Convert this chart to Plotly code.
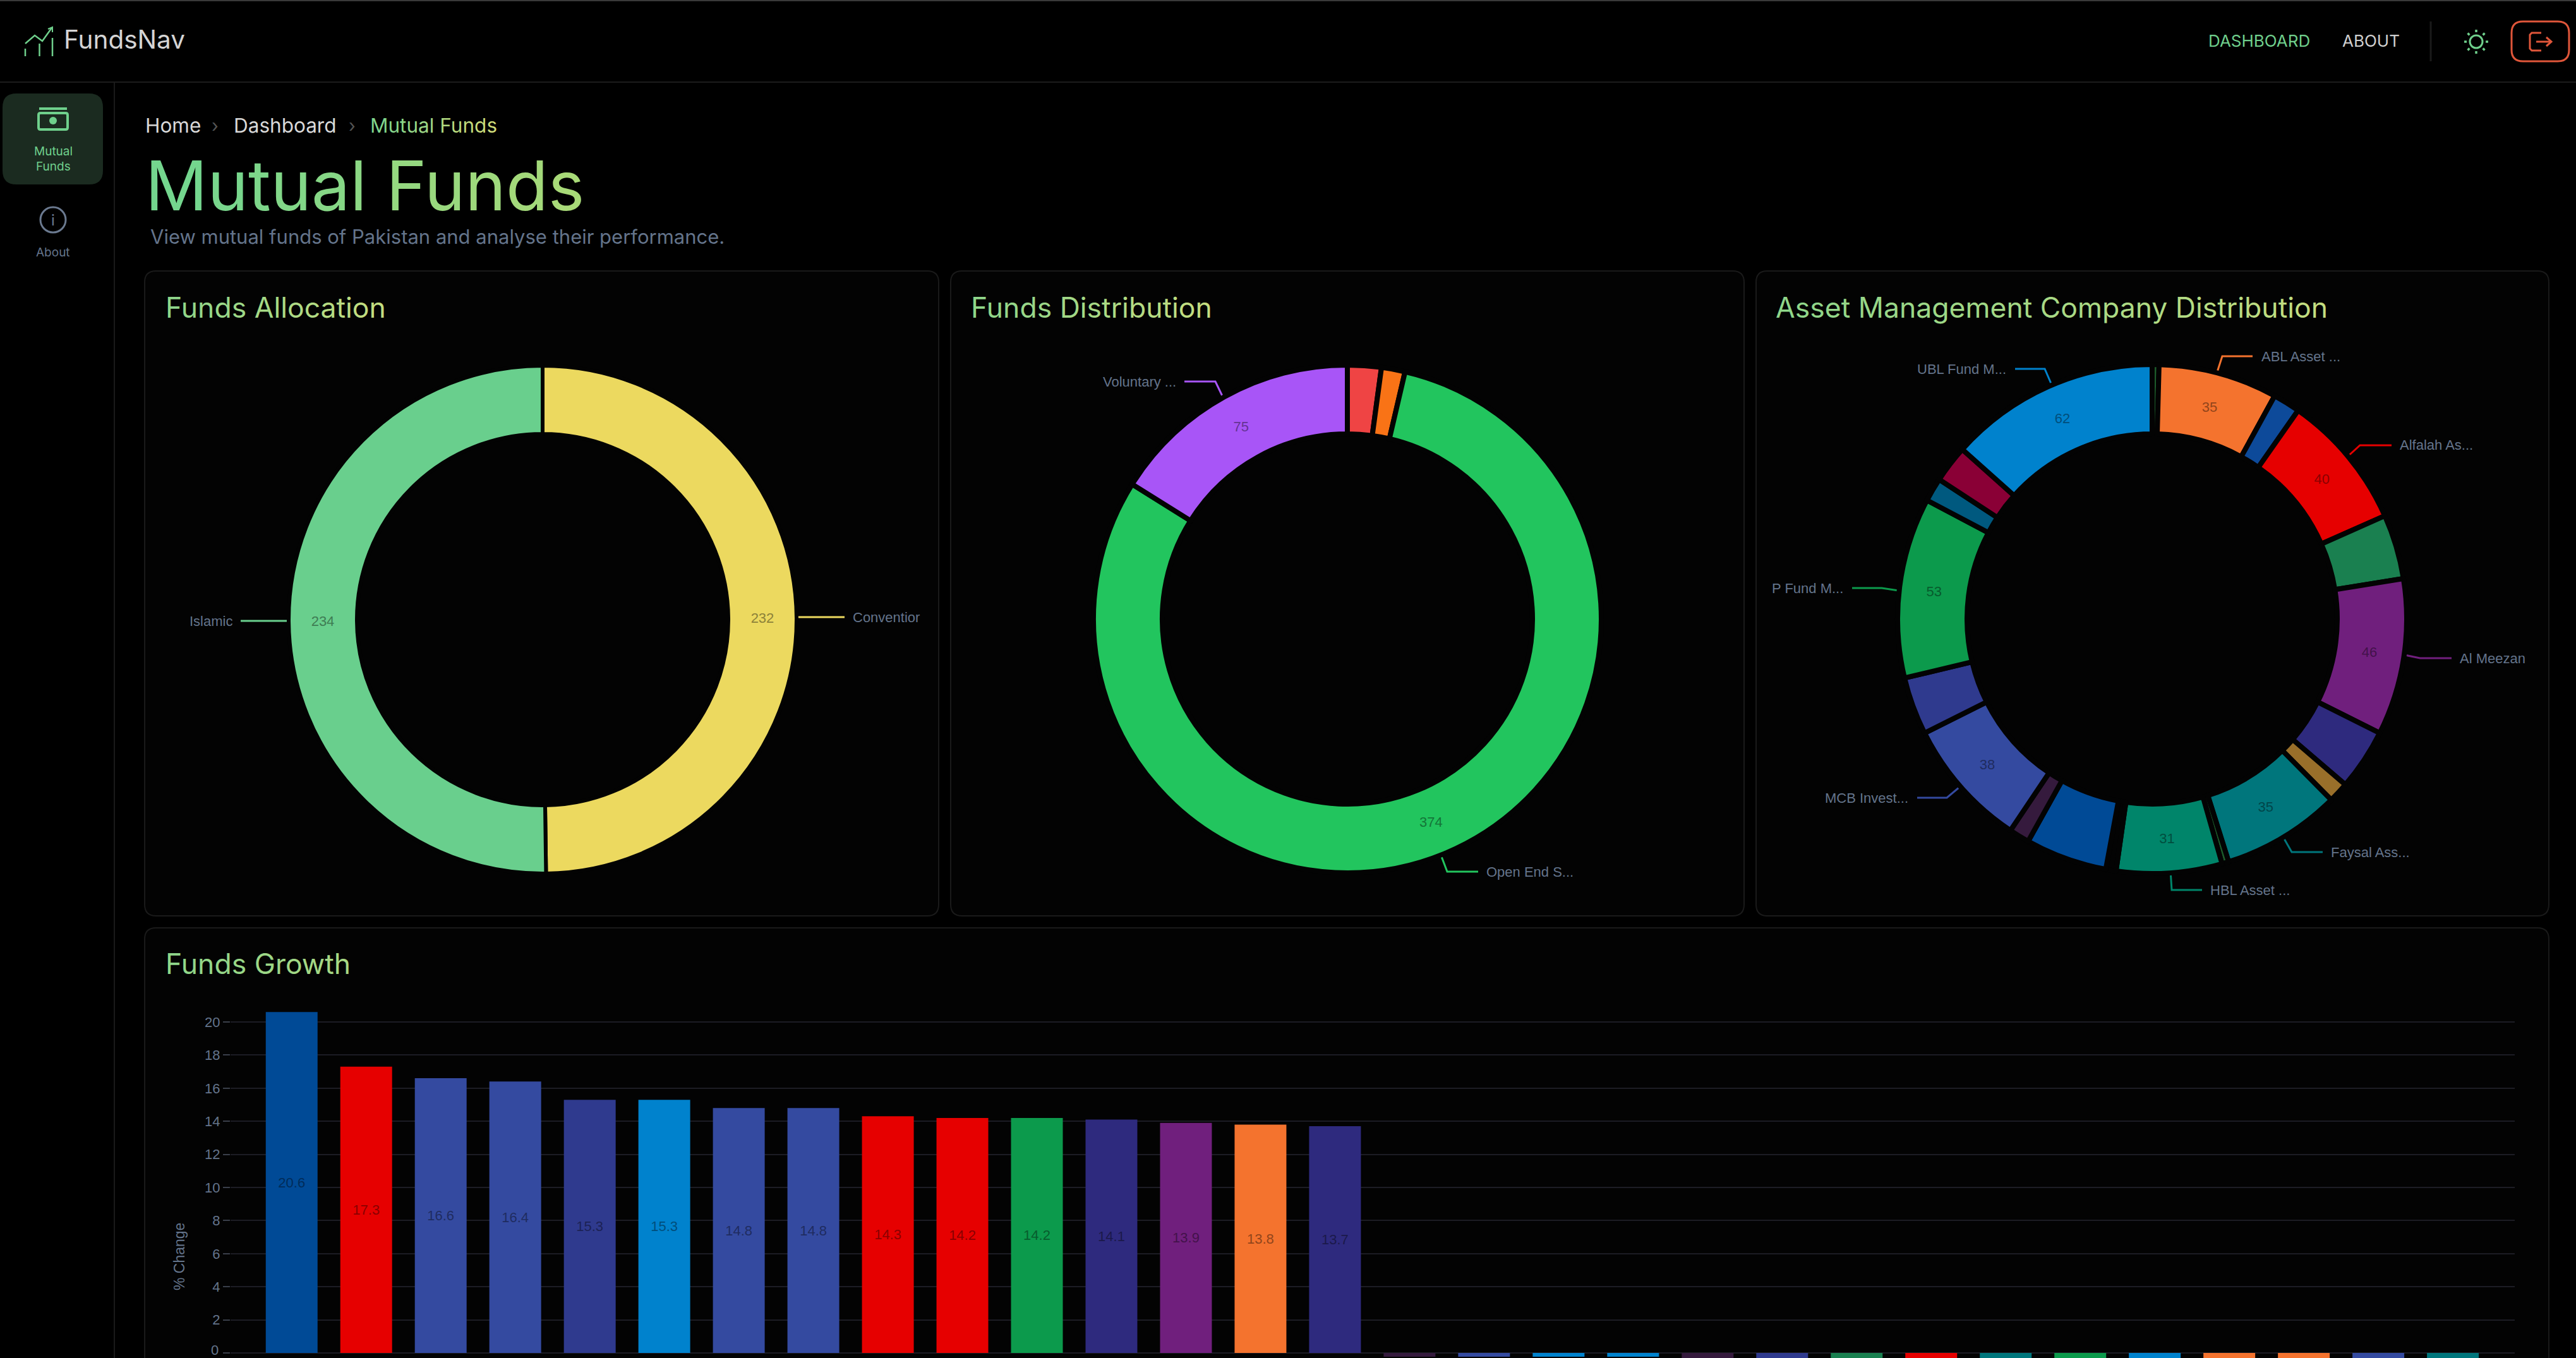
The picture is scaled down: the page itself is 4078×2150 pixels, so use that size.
import math

import plotly.graph_objects as go

WIDTH = 4078
HEIGHT = 2150

# Funds Allocation
allocation_labels = ["Conventional", "Islamic"]
allocation_values = [232, 234]
allocation_colors = ["#ecd95f", "#69cf8d"]
allocation_text = ["232", "234"]

# Funds Distribution
distribution_labels = ["Other A", "Other B", "Open End Schemes", "Voluntary Pension"]
distribution_values = [10, 7, 374, 75]
distribution_colors = ["#ef4444", "#f97316", "#22c55e", "#a855f7"]
distribution_text = ["", "", "374", "75"]

# Asset Management Company Distribution, clockwise from the top
amc_labels = [
    "a", "ABL Asset", "b", "Alfalah", "c", "Al Meezan", "d", "e", "Faysal", "f",
    "HBL Asset", "g", "h", "i", "MCB", "j", "NBP", "k", "l", "UBL",
]
amc_values = [2, 35, 8, 40, 19, 46, 18, 6, 35, 2, 31, 3, 24, 6, 38, 17, 53, 7, 11, 62]
amc_colors = [
    "#1d5c2b", "#f4732e", "#0d4a9a", "#e60000", "#1a8050", "#701f7d", "#2e2a7e",
    "#996f2a", "#00767c", "#1d5c2b", "#00856a", "#030303", "#004a96", "#351a3d",
    "#344aa0", "#2f3a8e", "#0c9a4c", "#00597f", "#8a0036", "#0082cd",
]
amc_text = [
    "", "35", "", "40", "", "46", "", "", "35", "",
    "31", "", "", "", "38", "", "53", "", "", "62",
]

# Funds Growth
growth_rank = list(range(30))
growth_values = [
    20.6, 17.3, 16.6, 16.4, 15.3, 15.3, 14.8, 14.8, 14.3, 14.2, 14.2, 14.1, 13.9, 13.8, 13.7,
    -0.23, -0.23, -0.23, -0.23, -0.6, -0.7, -1.2, -1.4, -1.5, -1.6, -1.7, -1.8, -1.9, -2.0, -2.1,
]
growth_colors = [
    "#004a96", "#e60000", "#344aa0", "#344aa0", "#2f3a8e", "#0082cd", "#344aa0", "#344aa0",
    "#e60000", "#e60000", "#0c9a4c", "#2e2a7e", "#701f7d", "#f4732e", "#2e2a7e",
    "#351a3d", "#344aa0", "#0082cd", "#0082cd", "#351a3d", "#2f3a8e", "#1a8050", "#e60000",
    "#00767c", "#0c9a4c", "#0082cd", "#f4732e", "#f4732e", "#344aa0", "#00767c",
]
growth_text = [
    "20.6", "17.3", "16.6", "16.4", "15.3", "15.3", "14.8", "14.8", "14.3", "14.2", "14.2",
    "14.1", "13.9", "13.8", "13.7", "", "", "", "", "", "", "", "", "", "", "", "", "", "", "",
]
y_ticks = [0, 2, 4, 6, 8, 10, 12, 14, 16, 18, 20]

UI_FONT = "Inter"
CHART_FONT = "Liberation Sans"
MUTED = "#64748b"
GRID = "#1c1c24"
CARD_BG = "#030303"


def px(x):
    return x / WIDTH


def py(y):
    return 1 - y / HEIGHT


def darken(color, factor=0.6):
    r, g, b = (int(color[i:i + 2], 16) for i in (1, 3, 5))
    return f"rgb({int(r * factor)},{int(g * factor)},{int(b * factor)})"


def gradient_text(text, start, end):
    """Colour a string letter by letter, annotations have no gradient fill."""
    a = [int(start[i:i + 2], 16) for i in (1, 3, 5)]
    b = [int(end[i:i + 2], 16) for i in (1, 3, 5)]
    parts = []
    for i, ch in enumerate(text):
        t = i / max(len(text) - 1, 1)
        rgb = [int(u + (v - u) * t) for u, v in zip(a, b)]
        parts.append(f'<span style="color:rgb({rgb[0]},{rgb[1]},{rgb[2]})">{ch}</span>')
    return "".join(parts)


def polyline(points):
    return "M " + " L ".join(f"{px(x):.6f},{py(y):.6f}" for x, y in points)


def rounded_rect(x0, y0, x1, y1, r):
    corners = [
        f"M {px(x0 + r):.6f},{py(y0):.6f}",
        f"L {px(x1 - r):.6f},{py(y0):.6f}",
        f"Q {px(x1):.6f},{py(y0):.6f} {px(x1):.6f},{py(y0 + r):.6f}",
        f"L {px(x1):.6f},{py(y1 - r):.6f}",
        f"Q {px(x1):.6f},{py(y1):.6f} {px(x1 - r):.6f},{py(y1):.6f}",
        f"L {px(x0 + r):.6f},{py(y1):.6f}",
        f"Q {px(x0):.6f},{py(y1):.6f} {px(x0):.6f},{py(y1 - r):.6f}",
        f"L {px(x0):.6f},{py(y0 + r):.6f}",
        f"Q {px(x0):.6f},{py(y0):.6f} {px(x0 + r):.6f},{py(y0):.6f} Z",
    ]
    return " ".join(corners)


shapes = []
annotations = []


def add_path(path, line=None, width=2, fill=None):
    shapes.append(dict(
        type="path", path=path, xref="paper", yref="paper", layer="below",
        line=dict(color=line or "rgba(0,0,0,0)", width=width if line else 0),
        fillcolor=fill or "rgba(0,0,0,0)",
    ))


def add_circle(cx, cy, r, line=None, width=2, fill=None):
    shapes.append(dict(
        type="circle", xref="paper", yref="paper", layer="below",
        x0=px(cx - r), x1=px(cx + r), y0=py(cy + r), y1=py(cy - r),
        line=dict(color=line or "rgba(0,0,0,0)", width=width if line else 0),
        fillcolor=fill or "rgba(0,0,0,0)",
    ))


def add_text(x, y, text, size, color, anchor="left", font=UI_FONT, angle=0):
    annotations.append(dict(
        x=px(x), y=py(y), xref="paper", yref="paper", text=text, showarrow=False,
        xanchor=anchor, yanchor="middle", textangle=angle, borderpad=0,
        font=dict(family=font, size=size, color=color),
    ))


def add_callout(points, color, text, text_x, anchor):
    add_path(polyline(points), line=color, width=3)
    add_text(text_x, points[0][1], text, 22, MUTED, anchor=anchor, font=CHART_FONT)


def donut(cx, cy, radius, inner, gap, labels, values, colors, text):
    # the black slice outline eats half the gap on every edge, so grow the disc by that
    r = radius + gap / 2
    return go.Pie(
        labels=labels, values=values, text=text, textinfo="text",
        sort=False, direction="clockwise", rotation=0, hole=(inner - gap / 2) / r,
        domain=dict(x=[px(cx - r), px(cx + r)], y=[py(cy + r), py(cy - r)]),
        marker=dict(colors=colors, line=dict(color=CARD_BG, width=gap)),
        textposition="inside", insidetextorientation="horizontal",
        textfont=dict(family=CHART_FONT, size=22, color=[darken(c) for c in colors]),
        showlegend=False, hoverinfo="label+value",
    )


# page furniture
add_path(rounded_rect(-1, 0, WIDTH + 1, 2, 0), fill="#3a3a3a")
add_path(polyline([(0, 130), (WIDTH, 130)]), line="#1c1c1c", width=2)
add_path(polyline([(181, 131), (181, HEIGHT)]), line="#1a1a1a", width=2)
add_path(polyline([(3848, 34), (3848, 97)]), line="#1a1a1a", width=3)

# cards
for x0, y0, x1, y1 in [
    (229, 429, 1486, 1450),
    (1505, 429, 2761, 1450),
    (2780, 429, 4035, 1450),
    (229, 1469, 4035, 2190),
]:
    add_path(rounded_rect(x0, y0, x1, y1, 18), line="#1a1a1a", width=2, fill=CARD_BG)

# logo
add_path(polyline([(40, 69), (55, 56), (67, 65), (82, 44)]), line="#6fd08c", width=2.5)
add_path(polyline([(76, 46), (83, 43), (83, 51)]), line="#6fd08c", width=2)
for x, top in [(40, 77), (62.5, 69), (83, 60)]:
    add_path(polyline([(x, top), (x, 89)]), line="#6fd08c", width=2.5)
add_text(100, 63, "FundsNav", 40.5, "#d4d4d4")

# header nav
add_text(3495, 65, "DASHBOARD", 26, "#6fcf8c")
add_text(3707, 65, "ABOUT", 26, "#cfcfcf")
add_circle(3920, 66, 10, line="#6fd08c", width=3)
for k in range(8):
    ang = k * math.pi / 4
    add_path(
        polyline([
            (3920 + 15 * math.sin(ang), 66 - 15 * math.cos(ang)),
            (3920 + 19 * math.sin(ang), 66 - 19 * math.cos(ang)),
        ]),
        line="#6fd08c", width=3.5,
    )
add_path(rounded_rect(3976, 34, 4067, 97, 18), line="#e0563a", width=3)
add_path(polyline([(4023, 52), (4008, 52), (4005, 55), (4005, 77), (4008, 80), (4023, 80)]),
         line="#e0563a", width=3)
add_path(polyline([(4015, 66), (4038, 66)]), line="#e0563a", width=3)
add_path(polyline([(4031, 59), (4039, 66), (4031, 73)]), line="#e0563a", width=3)

# sidebar
add_path(rounded_rect(4, 148, 163, 292, 22), fill="#1b2b20")
add_path(polyline([(62, 172), (106, 172)]), line="#6fd08c", width=4)
add_path(rounded_rect(61, 179, 107, 205, 3), line="#6fd08c", width=4)
add_circle(84, 191, 6, fill="#6fd08c")
add_text(84, 239, "Mutual", 19, "#6fd08c", anchor="center")
add_text(84, 263, "Funds", 19, "#6fd08c", anchor="center")
add_circle(84, 348, 20, line="#6b7a90", width=3)
add_text(84, 349, "i", 24, "#6b7a90", anchor="center")
add_text(84, 399, "About", 19, MUTED, anchor="center")

# breadcrumb and heading
add_text(229, 199, "Home", 31.5, "#d8d8d8")
add_text(334, 199, "\u203a", 28, "#555555")
add_text(369, 199, "Dashboard", 31.5, "#d8d8d8")
add_text(551, 199, "\u203a", 28, "#555555")
add_text(585, 199, gradient_text("Mutual Funds", "#7fd48c", "#cfdc7a"), 31.5, "#a7d67f")
add_text(229, 293, gradient_text("Mutual Funds", "#74d68e", "#a8da78"), 109, "#93d685")
add_text(237, 375, "View mutual funds of Pakistan and analyse their performance.", 31, MUTED)

# card titles
title_start, title_end = "#8fd68a", "#c4de80"
add_text(261, 487, gradient_text("Funds Allocation", title_start, title_end), 44.5, "#a0d984")
add_text(1536, 487, gradient_text("Funds Distribution", title_start, title_end), 44.5, "#a0d984")
add_text(2810, 487, gradient_text("Asset Management Company Distribution", title_start, title_end), 44.5, "#a0d984")
add_text(261, 1526, gradient_text("Funds Growth", title_start, "#a8d984"), 44.5, "#a0d984")

# pie callouts
add_callout([(381, 983), (461, 983)], "#69cf8d", "Islamic", 369, "right")
add_callout([(1337, 977), (1258, 977)], "#ecd95f", "Conventior", 1349, "left")
add_callout([(1875, 604), (1924, 604), (1938, 633)], "#a855f7", "Voluntary ...", 1863, "right")
add_callout([(2340, 1380), (2291, 1380), (2280, 1351)], "#22c55e", "Open End S...", 2352, "left")
add_callout([(3190, 584), (3237, 584), (3250, 614)], "#0082cd", "UBL Fund M...", 3177, "right")
add_callout([(3566, 564), (3518, 564), (3508, 595)], "#f4732e", "ABL Asset ...", 3579, "left")
add_callout([(3786, 705), (3736, 705), (3714, 725)], "#e60000", "Alfalah As...", 3798, "left")
add_callout([(3881, 1042), (3831, 1042), (3802, 1036)], "#701f7d", "Al Meezan", 3893, "left")
add_callout([(3677, 1349), (3628, 1349), (3612, 1321)], "#00767c", "Faysal Ass...", 3689, "left")
add_callout([(3486, 1409), (3438, 1409), (3436, 1378)], "#00856a", "HBL Asset ...", 3498, "left")
add_callout([(3035, 1263), (3082, 1263), (3107, 1242)], "#344aa0", "MCB Invest...", 3022, "right")
add_callout([(2932, 931), (2979, 931), (3012, 936)], "#0c9a4c", "P Fund M...", 2919, "right")

add_text(284, 1990, "% Change", 23, MUTED, anchor="center", font=CHART_FONT, angle=-90)
# plotly hides an outside tick label that passes the div edge, and this one just touches it
add_text(347, 2137, "0", 22, MUTED, anchor="right", font=CHART_FONT)

fig = go.Figure()
fig.add_trace(donut(859, 981, 399, 297, 6, allocation_labels, allocation_values, allocation_colors, allocation_text))
fig.add_trace(donut(2133, 980, 398, 297, 8, distribution_labels, distribution_values, distribution_colors, distribution_text))
fig.add_trace(donut(3407, 980, 399, 297, 8, amc_labels, amc_values, amc_colors, amc_text))

fig.add_trace(go.Bar(
    x=growth_rank, y=growth_values, text=growth_text, textposition="inside",
    textangle=0, insidetextanchor="middle", constraintext="none",
    marker=dict(color=growth_colors, line=dict(width=0)),
    textfont=dict(family=CHART_FONT, size=22, color=[darken(c) for c in growth_colors]),
    showlegend=False, hovertemplate="%{y}<extra></extra>",
))

fig.update_layout(
    width=WIDTH,
    height=HEIGHT,
    margin=dict(l=0, r=0, t=0, b=0),
    paper_bgcolor="#000000",
    plot_bgcolor="rgba(0,0,0,0)",
    bargap=0.305,
    shapes=shapes,
    annotations=annotations,
    xaxis=dict(
        domain=[px(365), px(3981)], range=[-0.82, 29.83], showticklabels=False,
        showgrid=False, zeroline=False, ticks="", fixedrange=True,
    ),
    yaxis=dict(
        domain=[py(2150), py(1590)], range=[-8 / 26.2, 552 / 26.2], tickvals=y_ticks,
        showgrid=True, gridcolor=GRID, gridwidth=2, zeroline=True, zerolinecolor=GRID,
        zerolinewidth=2, ticks="outside", ticklen=11, tickwidth=2, tickcolor="#3a3f4a",
        tickfont=dict(family=CHART_FONT, size=22, color=MUTED), showline=False,
    ),
)

fig.write_html(
    "out.html",
    config=dict(displayModeBar=False),
    post_script="document.body.style.margin='0';",
)
